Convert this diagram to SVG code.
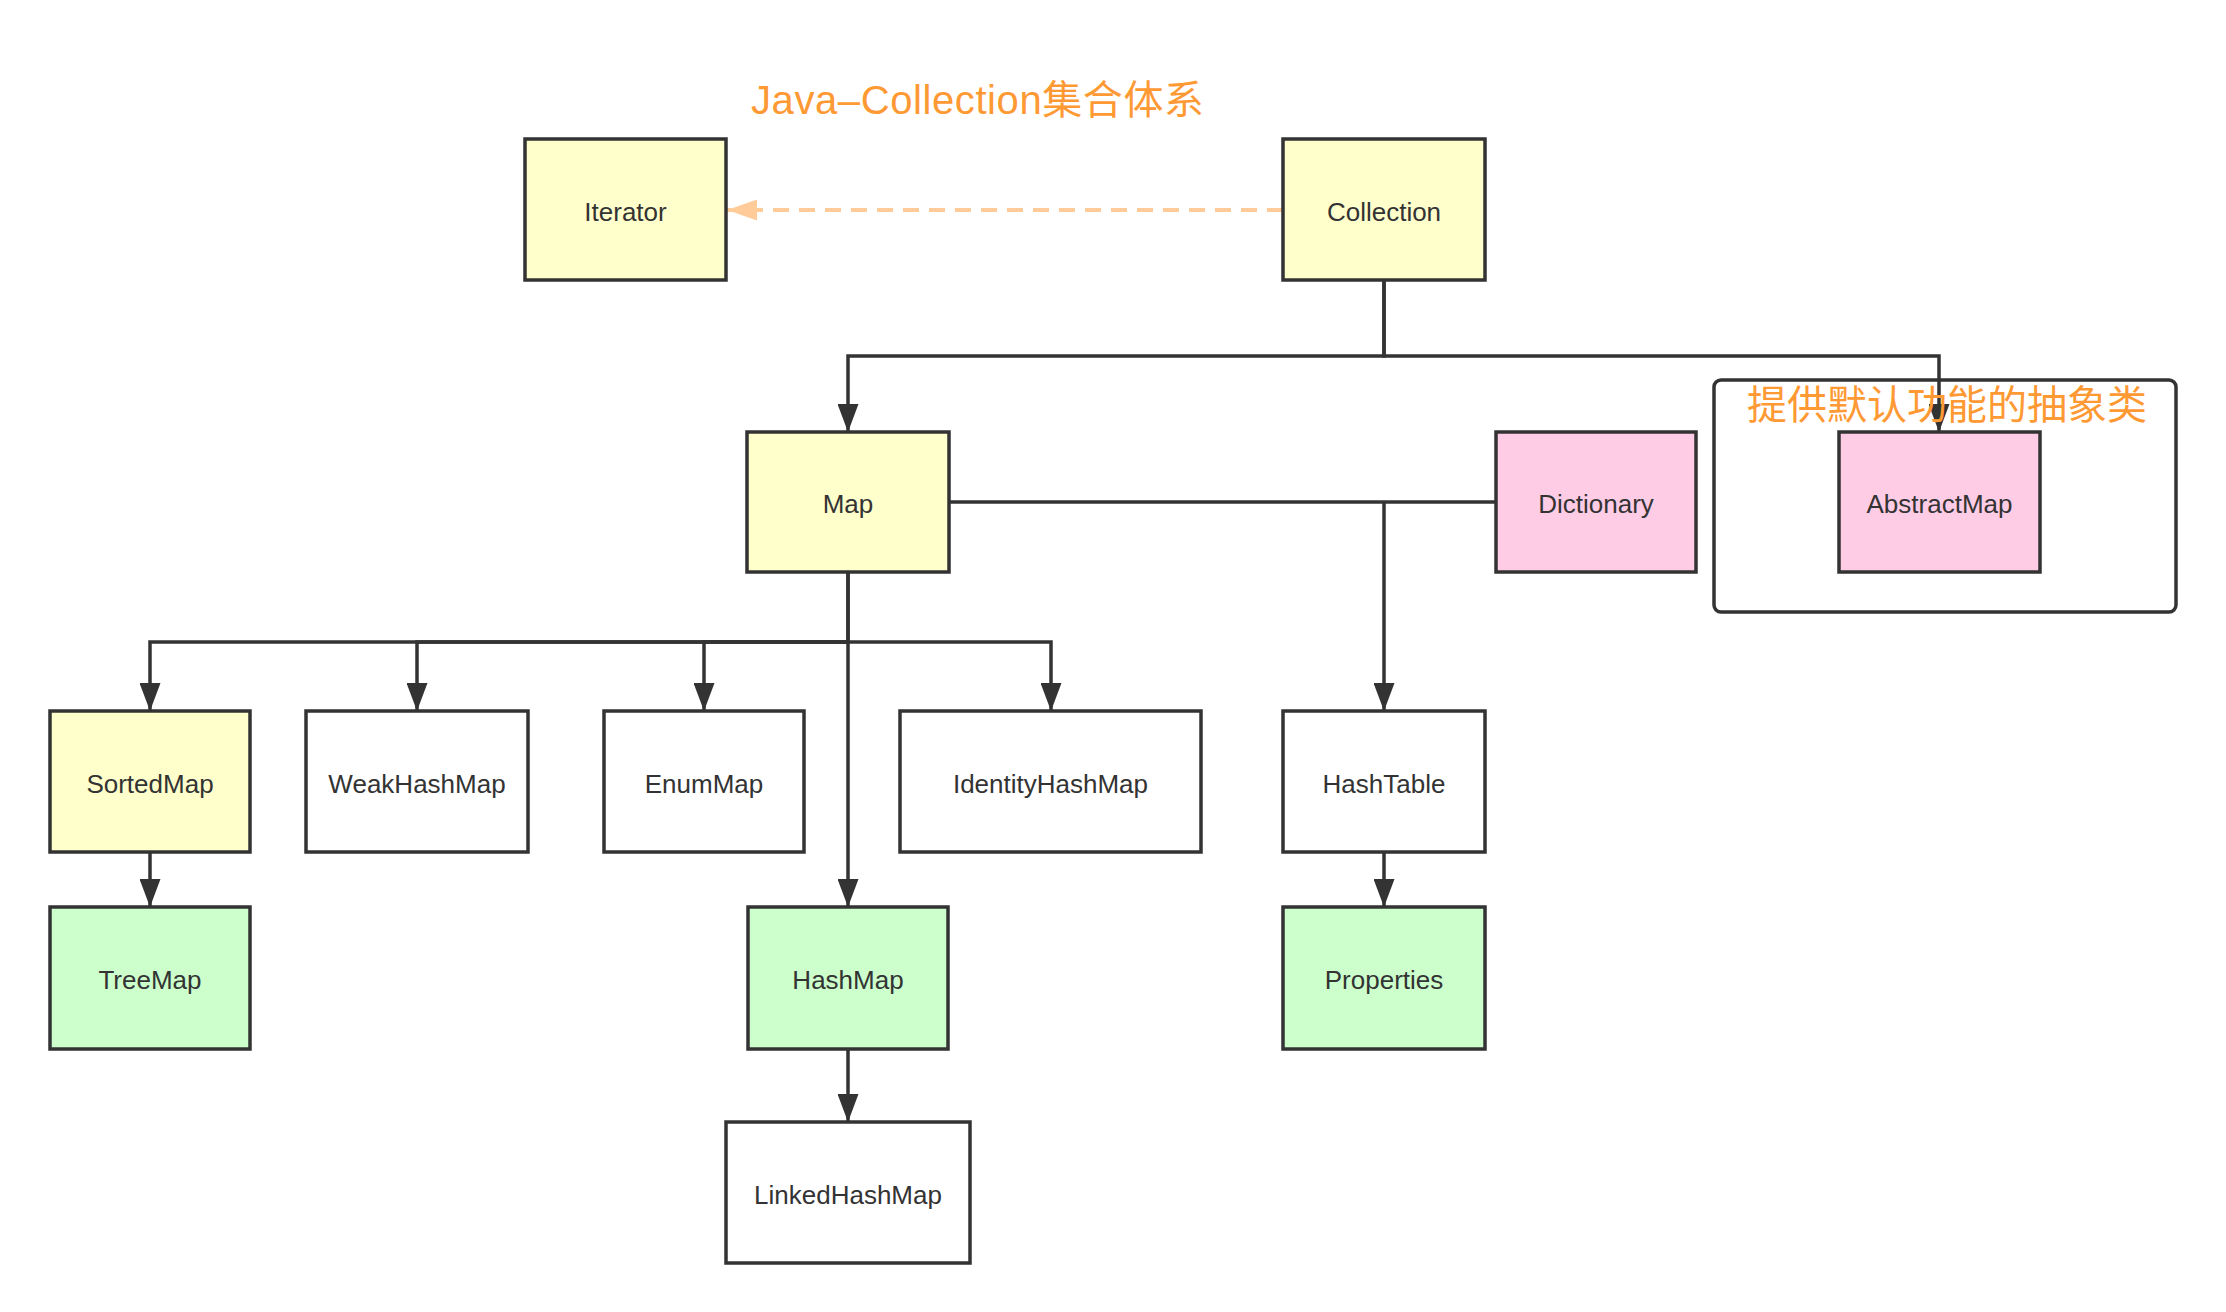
<svg xmlns="http://www.w3.org/2000/svg" width="2226" height="1312" viewBox="0 0 2226 1312">
<defs>
<style>
.node rect{stroke:#333333;stroke-width:3.5}
.y{fill:#FFFFCC}.p{fill:#FFCCE6}.g{fill:#CCFFCC}.w{fill:#FFFFFF}
.node text{font-family:"Liberation Sans","Noto Sans CJK SC",sans-serif;font-size:26px;fill:#333333;text-anchor:middle}
.edge{fill:none;stroke:#333333;stroke-width:3.5}
.dash{fill:none;stroke:#FFCC99;stroke-width:4;stroke-dasharray:16 10}
.label{font-family:"Liberation Sans","Noto Sans CJK SC",sans-serif;font-size:40px;fill:#FF9933}
</style>
<marker id="arr" markerUnits="userSpaceOnUse" markerWidth="28" markerHeight="21" refX="28" refY="10.5" orient="auto">
<path d="M0 0 L28 10.5 L0 21 Z" fill="#333333"/>
</marker>
<marker id="arrO" markerUnits="userSpaceOnUse" markerWidth="30" markerHeight="21" refX="30" refY="10.5" orient="auto">
<path d="M0 0 L30 10.5 L0 21 Z" fill="#FFCC99"/>
</marker>
</defs>
<rect width="2226" height="1312" fill="#FFFFFF"/>
<text class="label" x="751" y="114" textLength="453" lengthAdjust="spacing">Java–Collection集合体系</text>
<g id="group-abstract">
<rect x="1714" y="380" width="462" height="232" rx="7" fill="none" stroke="#333333" stroke-width="3.5"/>
</g>
<g id="connectors">
<path class="dash" d="M1283 210 H727" marker-end="url(#arrO)"/>
<path class="edge" d="M1384 280 V356 H848 V432" marker-end="url(#arr)"/>
<path class="edge" d="M1384 280 V356 H1939 V432" marker-end="url(#arr)"/>
<path class="edge" d="M949 502 H1496"/>
<path class="edge" d="M1384 502 V711" marker-end="url(#arr)"/>
<path class="edge" d="M848 572 V642 H150 V711" marker-end="url(#arr)"/>
<path class="edge" d="M848 642 H417 V711" marker-end="url(#arr)"/>
<path class="edge" d="M848 642 H704 V711" marker-end="url(#arr)"/>
<path class="edge" d="M848 642 H1051 V711" marker-end="url(#arr)"/>
<path class="edge" d="M848 572 V907" marker-end="url(#arr)"/>
<path class="edge" d="M150 852 V907" marker-end="url(#arr)"/>
<path class="edge" d="M1384 852 V907" marker-end="url(#arr)"/>
<path class="edge" d="M848 1049 V1122" marker-end="url(#arr)"/>
</g>
<text class="label" x="1747" y="419">提供默认功能的抽象类</text>
<g id="node-iterator" class="node"><rect class="y" x="525" y="139" width="201" height="141"/><text x="625.5" y="221">Iterator</text></g>
<g id="node-collection" class="node"><rect class="y" x="1283" y="139" width="202" height="141"/><text x="1384" y="221">Collection</text></g>
<g id="node-map" class="node"><rect class="y" x="747" y="432" width="202" height="140"/><text x="848" y="513">Map</text></g>
<g id="node-dictionary" class="node"><rect class="p" x="1496" y="432" width="200" height="140"/><text x="1596" y="513">Dictionary</text></g>
<g id="node-abstractmap" class="node"><rect class="p" x="1839" y="432" width="201" height="140"/><text x="1939.5" y="513">AbstractMap</text></g>
<g id="node-sortedmap" class="node"><rect class="y" x="50" y="711" width="200" height="141"/><text x="150" y="793">SortedMap</text></g>
<g id="node-weakhashmap" class="node"><rect class="w" x="306" y="711" width="222" height="141"/><text x="417" y="793">WeakHashMap</text></g>
<g id="node-enummap" class="node"><rect class="w" x="604" y="711" width="200" height="141"/><text x="704" y="793">EnumMap</text></g>
<g id="node-identityhashmap" class="node"><rect class="w" x="900" y="711" width="301" height="141"/><text x="1050.5" y="793">IdentityHashMap</text></g>
<g id="node-hashtable" class="node"><rect class="w" x="1283" y="711" width="202" height="141"/><text x="1384" y="793">HashTable</text></g>
<g id="node-treemap" class="node"><rect class="g" x="50" y="907" width="200" height="142"/><text x="150" y="989">TreeMap</text></g>
<g id="node-hashmap" class="node"><rect class="g" x="748" y="907" width="200" height="142"/><text x="848" y="989">HashMap</text></g>
<g id="node-properties" class="node"><rect class="g" x="1283" y="907" width="202" height="142"/><text x="1384" y="989">Properties</text></g>
<g id="node-linkedhashmap" class="node"><rect class="w" x="726" y="1122" width="244" height="141"/><text x="848" y="1204">LinkedHashMap</text></g>
</svg>
